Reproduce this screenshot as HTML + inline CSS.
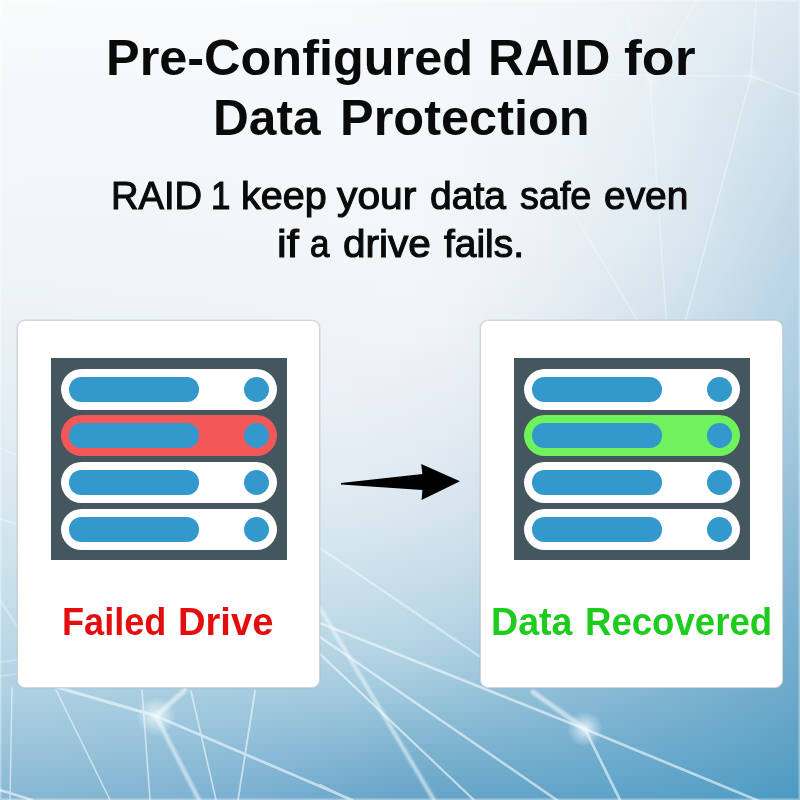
<!DOCTYPE html>
<html><head><meta charset="utf-8">
<style>
html,body{margin:0;padding:0;}
body{width:800px;height:800px;overflow:hidden;position:relative;font-family:"Liberation Sans",sans-serif;background:#dfeaf2;}
#bg i{position:absolute;left:0;width:800px;height:8px;display:block;}
#lines{position:absolute;left:0;top:0;}
.card{position:absolute;top:320px;width:303px;height:368px;background:#fff;border:1px solid #d2d6da;border-radius:8px;box-sizing:border-box;box-shadow:0 0 0.6px 0.6px rgba(170,178,186,0.35);}
.box{position:absolute;left:33px;top:37px;width:236px;height:202px;background:#44575f;}
.bay{position:absolute;left:10px;width:216px;height:41.3px;border-radius:20.65px;background:#fff;}
.bay.red{background:#f25858;}
.bay.green{background:#70f25c;}
.bar{position:absolute;left:7.6px;top:8.4px;width:130px;height:24.5px;border-radius:12.25px;background:#3399cc;}
.led{position:absolute;left:183px;top:8.1px;width:25px;height:25px;border-radius:50%;background:#3399cc;}
.w{position:absolute;transform-origin:0 0;line-height:1;white-space:nowrap;font-family:"Liberation Sans",sans-serif;}
.h1{font-weight:bold;font-size:50px;color:#0a0a0a;}
.h2{font-weight:normal;font-size:38.8px;color:#0a0a0a;-webkit-text-stroke:1.1px #0a0a0a;}
.lr{font-weight:bold;font-size:38.5px;color:#e30e0e;}
.lg{font-weight:bold;font-size:38.5px;color:#1ecc1e;}
</style></head><body>
<div id="bg">
<i style="top:0px;background:linear-gradient(90deg,#f9fbfb 0px,#f9fafb 50px,#f8fafb 100px,#f8fafb 150px,#f8fafb 200px,#f8fafc 250px,#f8fafc 300px,#f7fafb 350px,#f6f9fb 400px,#f6f9fb 450px,#f5f8fa 500px,#f3f7f9 550px,#f0f5f8 600px,#ecf2f7 650px,#e7eff5 700px,#e1ebf2 750px,#dbe7f0 800px)"></i>
<i style="top:8px;background:linear-gradient(90deg,#f9fbfb 0px,#f8fafb 50px,#f8fafb 100px,#f8fafb 150px,#f8fafb 200px,#f8fafb 250px,#f7fafb 300px,#f7fafb 350px,#f6f9fb 400px,#f5f9fb 450px,#f4f8fa 500px,#f2f6f9 550px,#f0f4f8 600px,#ecf2f6 650px,#e7eff4 700px,#e1ebf2 750px,#dae7ef 800px)"></i>
<i style="top:16px;background:linear-gradient(90deg,#f8fafb 0px,#f8fafb 50px,#f8fafb 100px,#f8fafb 150px,#f8fafb 200px,#f8fafb 250px,#f7fafb 300px,#f7f9fb 350px,#f6f9fb 400px,#f5f8fb 450px,#f4f8fa 500px,#f2f6f9 550px,#eff4f8 600px,#ebf1f6 650px,#e6eef4 700px,#e0eaf2 750px,#d9e6ef 800px)"></i>
<i style="top:24px;background:linear-gradient(90deg,#f8fafb 0px,#f7fafb 50px,#f7fafb 100px,#f7fafb 150px,#f7fafb 200px,#f7fafb 250px,#f7f9fb 300px,#f6f9fb 350px,#f6f9fb 400px,#f5f8fb 450px,#f4f7fa 500px,#f2f6f9 550px,#eff4f8 600px,#ebf1f6 650px,#e5eef4 700px,#dfeaf1 750px,#d8e6ee 800px)"></i>
<i style="top:32px;background:linear-gradient(90deg,#f8fafb 0px,#f7f9fb 50px,#f7f9fb 100px,#f7f9fb 150px,#f7f9fb 200px,#f7f9fb 250px,#f7f9fb 300px,#f6f9fb 350px,#f5f9fb 400px,#f5f8fa 450px,#f4f7fa 500px,#f2f6f9 550px,#eef4f8 600px,#eaf1f6 650px,#e5edf4 700px,#dee9f1 750px,#d7e5ee 800px)"></i>
<i style="top:40px;background:linear-gradient(90deg,#f7fafb 0px,#f7f9fb 50px,#f7f9fb 100px,#f7f9fb 150px,#f7f9fb 200px,#f7f9fb 250px,#f6f9fb 300px,#f6f9fb 350px,#f5f9fb 400px,#f5f8fa 450px,#f3f7fa 500px,#f1f6f9 550px,#eef3f7 600px,#eaf1f6 650px,#e4edf3 700px,#dde9f0 750px,#d6e4ee 800px)"></i>
<i style="top:48px;background:linear-gradient(90deg,#f7f9fb 0px,#f6f9fb 50px,#f6f9fb 100px,#f6f9fb 150px,#f6f9fb 200px,#f6f9fb 250px,#f6f9fb 300px,#f6f9fb 350px,#f5f8fb 400px,#f4f8fa 450px,#f3f7fa 500px,#f1f5f9 550px,#eef3f7 600px,#e9f0f5 650px,#e3edf3 700px,#dce8f0 750px,#d5e4ed 800px)"></i>
<i style="top:56px;background:linear-gradient(90deg,#f7f9fb 0px,#f6f9fb 50px,#f6f9fb 100px,#f6f9fb 150px,#f6f9fb 200px,#f6f9fb 250px,#f6f9fb 300px,#f6f9fb 350px,#f5f8fb 400px,#f4f8fa 450px,#f3f7fa 500px,#f1f5f9 550px,#edf3f7 600px,#e9f0f5 650px,#e3ecf3 700px,#dce8f0 750px,#d4e3ed 800px)"></i>
<i style="top:64px;background:linear-gradient(90deg,#f6f9fb 0px,#f6f9fb 50px,#f6f9fb 100px,#f6f9fb 150px,#f6f9fb 200px,#f6f9fb 250px,#f6f9fb 300px,#f5f9fb 350px,#f5f8fa 400px,#f4f8fa 450px,#f3f7fa 500px,#f0f5f9 550px,#edf3f7 600px,#e8f0f5 650px,#e2ecf3 700px,#dbe7ef 750px,#d3e2ec 800px)"></i>
<i style="top:72px;background:linear-gradient(90deg,#f6f9fb 0px,#f5f8fa 50px,#f5f8fa 100px,#f6f8fb 150px,#f6f8fb 200px,#f6f9fb 250px,#f6f9fb 300px,#f5f8fb 350px,#f5f8fa 400px,#f4f8fa 450px,#f3f7f9 500px,#f0f5f8 550px,#edf3f7 600px,#e8eff5 650px,#e1ebf2 700px,#dae7ef 750px,#d2e2ec 800px)"></i>
<i style="top:80px;background:linear-gradient(90deg,#f6f9fb 0px,#f5f8fa 50px,#f5f8fa 100px,#f5f8fa 150px,#f5f8fa 200px,#f5f8fb 250px,#f5f8fb 300px,#f5f8fb 350px,#f5f8fa 400px,#f4f7fa 450px,#f2f6f9 500px,#f0f5f8 550px,#ecf2f7 600px,#e7eff5 650px,#e1ebf2 700px,#d9e6ef 750px,#d1e1eb 800px)"></i>
<i style="top:88px;background:linear-gradient(90deg,#f5f8fa 0px,#f5f8fa 50px,#f5f8fa 100px,#f5f8fa 150px,#f5f8fa 200px,#f5f8fa 250px,#f5f8fa 300px,#f5f8fa 350px,#f4f8fa 400px,#f4f7fa 450px,#f2f6f9 500px,#f0f5f8 550px,#ecf2f7 600px,#e7eff5 650px,#e0ebf2 700px,#d8e6ef 750px,#d0e1eb 800px)"></i>
<i style="top:96px;background:linear-gradient(90deg,#f5f8fa 0px,#f5f8fa 50px,#f5f8fa 100px,#f5f8fa 150px,#f5f8fa 200px,#f5f8fa 250px,#f5f8fa 300px,#f5f8fa 350px,#f4f8fa 400px,#f4f7fa 450px,#f2f6f9 500px,#eff4f8 550px,#ecf2f7 600px,#e6eff5 650px,#dfeaf2 700px,#d7e5ee 750px,#cfe0eb 800px)"></i>
<i style="top:104px;background:linear-gradient(90deg,#f5f8fa 0px,#f5f8fa 50px,#f4f8fa 100px,#f5f8fa 150px,#f5f8fa 200px,#f5f8fa 250px,#f5f8fa 300px,#f5f8fa 350px,#f4f8fa 400px,#f3f7fa 450px,#f2f6f9 500px,#eff4f8 550px,#ebf2f6 600px,#e6eef4 650px,#dfeaf2 700px,#d6e5ee 750px,#cedfea 800px)"></i>
<i style="top:112px;background:linear-gradient(90deg,#f5f8fa 0px,#f4f8fa 50px,#f4f8fa 100px,#f4f8fa 150px,#f5f8fa 200px,#f5f8fa 250px,#f5f8fa 300px,#f5f8fa 350px,#f4f8fa 400px,#f3f7fa 450px,#f2f6f9 500px,#eff4f8 550px,#ebf2f6 600px,#e6eef4 650px,#deeaf1 700px,#d5e5ee 750px,#cddfea 800px)"></i>
<i style="top:120px;background:linear-gradient(90deg,#f4f8fa 0px,#f4f8fa 50px,#f4f7fa 100px,#f4f7fa 150px,#f4f7fa 200px,#f5f8fa 250px,#f5f8fa 300px,#f5f8fa 350px,#f4f8fa 400px,#f3f7fa 450px,#f2f6f9 500px,#eff4f8 550px,#ebf1f6 600px,#e5eef4 650px,#dee9f1 700px,#d5e4ee 750px,#ccdeea 800px)"></i>
<i style="top:128px;background:linear-gradient(90deg,#f4f8fa 0px,#f4f7fa 50px,#f4f7fa 100px,#f4f7fa 150px,#f4f7fa 200px,#f4f7fa 250px,#f4f8fa 300px,#f4f8fa 350px,#f4f8fa 400px,#f3f7fa 450px,#f1f6f9 500px,#eff4f8 550px,#eaf1f6 600px,#e5eef4 650px,#dde9f1 700px,#d4e4ee 750px,#cbdeea 800px)"></i>
<i style="top:136px;background:linear-gradient(90deg,#f4f7fa 0px,#f4f7fa 50px,#f4f7fa 100px,#f4f7fa 150px,#f4f7fa 200px,#f4f7fa 250px,#f4f8fa 300px,#f4f8fa 350px,#f4f8fa 400px,#f3f7fa 450px,#f1f6f9 500px,#eef4f8 550px,#eaf1f6 600px,#e4edf4 650px,#dde9f1 700px,#d3e3ee 750px,#caddea 800px)"></i>
<i style="top:144px;background:linear-gradient(90deg,#f3f7fa 0px,#f3f7fa 50px,#f3f7fa 100px,#f4f7fa 150px,#f4f7fa 200px,#f4f7fa 250px,#f4f7fa 300px,#f4f8fa 350px,#f4f7fa 400px,#f3f7f9 450px,#f1f5f9 500px,#eef3f7 550px,#eaf1f6 600px,#e4edf4 650px,#dce8f1 700px,#d2e3ed 750px,#c9dde9 800px)"></i>
<i style="top:152px;background:linear-gradient(90deg,#f3f7fa 0px,#f3f7fa 50px,#f3f7fa 100px,#f3f7fa 150px,#f4f7fa 200px,#f4f7fa 250px,#f4f7fa 300px,#f4f7fa 350px,#f4f7fa 400px,#f3f7f9 450px,#f1f5f9 500px,#eef3f7 550px,#eaf0f6 600px,#e4edf4 650px,#dce8f1 700px,#d2e2ed 750px,#c8dce9 800px)"></i>
<i style="top:160px;background:linear-gradient(90deg,#f3f7fa 0px,#f3f7fa 50px,#f3f7fa 100px,#f3f7fa 150px,#f3f7fa 200px,#f4f7fa 250px,#f4f7fa 300px,#f4f7fa 350px,#f4f7fa 400px,#f3f7f9 450px,#f1f5f8 500px,#eef3f7 550px,#e9f0f5 600px,#e3edf3 650px,#dbe8f1 700px,#d1e2ed 750px,#c7dbe9 800px)"></i>
<i style="top:168px;background:linear-gradient(90deg,#f3f7fa 0px,#f3f7fa 50px,#f3f7fa 100px,#f3f6fa 150px,#f3f7fa 200px,#f3f7fa 250px,#f4f7fa 300px,#f4f7fa 350px,#f4f7fa 400px,#f3f7f9 450px,#f1f5f8 500px,#edf3f7 550px,#e9f0f5 600px,#e3ecf3 650px,#dbe8f0 700px,#d0e1ec 750px,#c6dbe8 800px)"></i>
<i style="top:176px;background:linear-gradient(90deg,#f2f7fa 0px,#f2f6fa 50px,#f2f6fa 100px,#f3f6f9 150px,#f3f6f9 200px,#f3f7f9 250px,#f4f7fa 300px,#f4f7fa 350px,#f4f7fa 400px,#f2f6f9 450px,#f0f5f8 500px,#edf3f7 550px,#e9f0f5 600px,#e2ecf3 650px,#dae7f0 700px,#cfe1ec 750px,#c5dae8 800px)"></i>
<i style="top:184px;background:linear-gradient(90deg,#f2f6fa 0px,#f2f6fa 50px,#f2f6f9 100px,#f2f6f9 150px,#f3f6f9 200px,#f3f6f9 250px,#f3f7f9 300px,#f4f7fa 350px,#f3f7fa 400px,#f2f6f9 450px,#f0f5f8 500px,#edf2f7 550px,#e8eff5 600px,#e2ecf3 650px,#dae7f0 700px,#cfe0ec 750px,#c4d9e8 800px)"></i>
<i style="top:192px;background:linear-gradient(90deg,#f2f6f9 0px,#f2f6f9 50px,#f2f6f9 100px,#f2f6f9 150px,#f2f6f9 200px,#f3f6f9 250px,#f3f7f9 300px,#f3f7fa 350px,#f3f7fa 400px,#f2f6f9 450px,#f0f5f8 500px,#ecf2f6 550px,#e8eff5 600px,#e2ecf3 650px,#d9e7f0 700px,#cee0eb 750px,#c3d9e8 800px)"></i>
<i style="top:200px;background:linear-gradient(90deg,#f1f6f9 0px,#f1f6f9 50px,#f2f6f9 100px,#f2f6f9 150px,#f2f6f9 200px,#f3f6f9 250px,#f3f6f9 300px,#f3f7fa 350px,#f3f7f9 400px,#f2f6f9 450px,#f0f4f8 500px,#ecf2f6 550px,#e7eff4 600px,#e1ebf2 650px,#d9e7f0 700px,#cddfeb 750px,#c2d8e7 800px)"></i>
<i style="top:208px;background:linear-gradient(90deg,#f1f6f9 0px,#f1f6f9 50px,#f1f6f9 100px,#f2f6f9 150px,#f2f6f9 200px,#f2f6f9 250px,#f3f6f9 300px,#f3f7f9 350px,#f3f7f9 400px,#f2f6f9 450px,#eff4f8 500px,#ecf2f6 550px,#e7eef4 600px,#e1ebf2 650px,#d8e6ef 700px,#ccdfeb 750px,#c1d8e7 800px)"></i>
<i style="top:216px;background:linear-gradient(90deg,#f0f5f9 0px,#f1f5f9 50px,#f1f5f9 100px,#f1f5f9 150px,#f2f5f9 200px,#f2f6f9 250px,#f3f6f9 300px,#f3f7f9 350px,#f3f7f9 400px,#f2f6f9 450px,#eff4f8 500px,#ebf1f6 550px,#e6eef4 600px,#e0ebf2 650px,#d8e6ef 700px,#ccdeea 750px,#c0d7e7 800px)"></i>
<i style="top:224px;background:linear-gradient(90deg,#f0f5f9 0px,#f0f5f9 50px,#f1f5f9 100px,#f1f5f9 150px,#f2f5f9 200px,#f2f5f9 250px,#f2f6f9 300px,#f3f6f9 350px,#f3f7f9 400px,#f2f6f9 450px,#eff4f7 500px,#ebf1f6 550px,#e6eef4 600px,#dfeaf2 650px,#d7e6ef 700px,#cbdeea 750px,#bfd7e6 800px)"></i>
<i style="top:232px;background:linear-gradient(90deg,#f0f5f9 0px,#f0f5f9 50px,#f0f5f9 100px,#f1f5f9 150px,#f1f5f9 200px,#f2f5f9 250px,#f2f6f9 300px,#f3f6f9 350px,#f3f7f9 400px,#f1f6f9 450px,#eff3f7 500px,#ebf1f5 550px,#e5edf3 600px,#dfeaf1 650px,#d7e5ef 700px,#caddea 750px,#bed6e6 800px)"></i>
<i style="top:240px;background:linear-gradient(90deg,#eff5f8 0px,#f0f5f9 50px,#f0f5f9 100px,#f1f5f9 150px,#f1f5f9 200px,#f1f5f9 250px,#f2f5f9 300px,#f2f6f9 350px,#f2f6f9 400px,#f1f5f8 450px,#eef3f7 500px,#eaf0f5 550px,#e5edf3 600px,#dee9f1 650px,#d6e5ef 700px,#c9dde9 750px,#bdd6e6 800px)"></i>
<i style="top:248px;background:linear-gradient(90deg,#eff4f8 0px,#eff4f8 50px,#f0f5f8 100px,#f0f5f8 150px,#f1f5f8 200px,#f1f5f8 250px,#f2f5f9 300px,#f2f6f9 350px,#f2f6f9 400px,#f1f5f8 450px,#eef3f7 500px,#eaf0f5 550px,#e4ecf3 600px,#dde8f1 650px,#d5e4ee 700px,#c8dce9 750px,#bcd5e6 800px)"></i>
<i style="top:256px;background:linear-gradient(90deg,#eef4f8 0px,#eff4f8 50px,#eff4f8 100px,#f0f4f8 150px,#f0f4f8 200px,#f1f5f8 250px,#f1f5f9 300px,#f2f6f9 350px,#f2f6f9 400px,#f1f5f8 450px,#eef3f7 500px,#e9eff5 550px,#e3ecf2 600px,#dce8f0 650px,#d4e4ee 700px,#c7dce9 750px,#bbd5e6 800px)"></i>
<i style="top:264px;background:linear-gradient(90deg,#eef4f8 0px,#eef4f8 50px,#eff4f8 100px,#f0f4f8 150px,#f0f4f8 200px,#f1f4f8 250px,#f1f5f8 300px,#f2f6f9 350px,#f2f6f9 400px,#f0f5f8 450px,#edf2f7 500px,#e9eff4 550px,#e3ebf2 600px,#dbe7f0 650px,#d3e3ed 700px,#c6dbe9 750px,#bad5e6 800px)"></i>
<i style="top:272px;background:linear-gradient(90deg,#edf3f8 0px,#eef4f8 50px,#eff4f8 100px,#eff4f8 150px,#f0f4f8 200px,#f0f4f8 250px,#f1f5f8 300px,#f2f6f9 350px,#f2f6f9 400px,#f0f5f8 450px,#edf2f6 500px,#e8eff4 550px,#e2ebf2 600px,#dae6ef 650px,#d1e2ed 700px,#c5dbe9 750px,#b9d4e6 800px)"></i>
<i style="top:280px;background:linear-gradient(90deg,#edf3f7 0px,#eef3f8 50px,#eef4f8 100px,#eff4f8 150px,#eff4f8 200px,#f0f4f8 250px,#f0f4f8 300px,#f1f5f9 350px,#f1f6f9 400px,#f0f4f8 450px,#ecf2f6 500px,#e7eef4 550px,#e1eaf1 600px,#dae6ef 650px,#d0e1ec 700px,#c4dbe9 750px,#b8d4e6 800px)"></i>
<i style="top:288px;background:linear-gradient(90deg,#ecf3f7 0px,#edf3f8 50px,#eef3f8 100px,#eff4f8 150px,#eff4f8 200px,#f0f4f8 250px,#f0f4f8 300px,#f1f5f9 350px,#f1f6f9 400px,#eff4f8 450px,#ecf1f6 500px,#e7eef4 550px,#e0e9f1 600px,#d8e5ee 650px,#cfe1ec 700px,#c3dae9 750px,#b7d3e6 800px)"></i>
<i style="top:296px;background:linear-gradient(90deg,#ecf2f7 0px,#edf3f7 50px,#edf3f8 100px,#eef3f8 150px,#eff3f8 200px,#eff4f8 250px,#f0f4f8 300px,#f1f5f9 350px,#f1f5f9 400px,#eff4f8 450px,#ebf1f6 500px,#e6edf3 550px,#dfe9f1 600px,#d7e4ee 650px,#cee0ec 700px,#c2d9e8 750px,#b6d3e5 800px)"></i>
<i style="top:304px;background:linear-gradient(90deg,#ebf2f7 0px,#ecf3f7 50px,#edf3f7 100px,#eef3f8 150px,#eef3f8 200px,#eff3f8 250px,#f0f4f8 300px,#f0f5f8 350px,#f0f5f9 400px,#eef3f7 450px,#ebf0f5 500px,#e5edf3 550px,#dfe8f0 600px,#d6e4ee 650px,#cddfeb 700px,#c1d9e8 750px,#b5d3e5 800px)"></i>
<i style="top:312px;background:linear-gradient(90deg,#ebf2f7 0px,#ecf2f7 50px,#edf3f7 100px,#edf3f7 150px,#eef3f8 200px,#eff3f8 250px,#eff4f8 300px,#f0f4f8 350px,#f0f5f8 400px,#eef3f7 450px,#eaf0f5 500px,#e5ecf3 550px,#dee8f0 600px,#d5e3ed 650px,#cbdeeb 700px,#c0d8e8 750px,#b4d2e5 800px)"></i>
<i style="top:320px;background:linear-gradient(90deg,#eaf1f6 0px,#ebf2f7 50px,#ecf2f7 100px,#edf3f7 150px,#eef3f7 200px,#eef3f8 250px,#eff3f8 300px,#f0f4f8 350px,#f0f5f8 400px,#edf3f7 450px,#e9f0f5 500px,#e4ecf2 550px,#dde7f0 600px,#d4e3ed 650px,#cadeea 700px,#bed8e7 750px,#b3d1e5 800px)"></i>
<i style="top:328px;background:linear-gradient(90deg,#eaf1f6 0px,#ebf2f6 50px,#ecf2f7 100px,#edf2f7 150px,#edf3f7 200px,#eef3f7 250px,#eff3f8 300px,#eff4f8 350px,#eff4f8 400px,#edf2f7 450px,#e9eff5 500px,#e3ebf2 550px,#dce7ef 600px,#d3e2ed 650px,#c9ddea 700px,#bdd7e7 750px,#b2d1e4 800px)"></i>
<i style="top:336px;background:linear-gradient(90deg,#e9f1f6 0px,#eaf1f6 50px,#ebf2f7 100px,#ecf2f7 150px,#edf2f7 200px,#edf3f7 250px,#eef3f8 300px,#eff3f8 350px,#eff4f8 400px,#ecf2f6 450px,#e8eef4 500px,#e2ebf2 550px,#dbe6ef 600px,#d2e1ec 650px,#c8dce9 700px,#bcd6e7 750px,#b0d0e4 800px)"></i>
<i style="top:344px;background:linear-gradient(90deg,#e8f0f6 0px,#e9f1f6 50px,#ebf1f6 100px,#ecf2f7 150px,#ecf2f7 200px,#edf2f7 250px,#eef3f8 300px,#eef3f8 350px,#eef3f7 400px,#ecf1f6 450px,#e7eef4 500px,#e1eaf1 550px,#dae6ef 600px,#d1e1ec 650px,#c6dce9 700px,#bbd6e6 750px,#afd0e3 800px)"></i>
<i style="top:352px;background:linear-gradient(90deg,#e8f0f5 0px,#e9f1f6 50px,#eaf1f6 100px,#ebf2f7 150px,#ecf2f7 200px,#edf2f7 250px,#edf2f7 300px,#eef3f8 350px,#edf2f7 400px,#ebf0f6 450px,#e7edf4 500px,#e0e9f1 550px,#d9e5ee 600px,#cfe0eb 650px,#c5dbe9 700px,#b9d5e6 750px,#aecfe3 800px)"></i>
<i style="top:360px;background:linear-gradient(90deg,#e7f0f5 0px,#e8f0f6 50px,#e9f1f6 100px,#eaf1f6 150px,#ebf2f7 200px,#ecf2f7 250px,#edf2f7 300px,#edf2f7 350px,#edf1f7 400px,#eaf0f5 450px,#e6edf3 500px,#dfe9f1 550px,#d8e4ee 600px,#cedfeb 650px,#c4dae8 700px,#b8d4e5 750px,#accee2 800px)"></i>
<i style="top:368px;background:linear-gradient(90deg,#e6eff5 0px,#e8f0f5 50px,#e9f1f6 100px,#eaf1f6 150px,#ebf1f7 200px,#ecf2f7 250px,#ecf2f7 300px,#edf2f7 350px,#ecf1f6 400px,#e9eff5 450px,#e5ecf3 500px,#dee8f0 550px,#d6e4ed 600px,#cddfea 650px,#c2d9e8 700px,#b7d4e5 750px,#abcee2 800px)"></i>
<i style="top:376px;background:linear-gradient(90deg,#e6eff5 0px,#e7f0f5 50px,#e8f0f6 100px,#e9f1f6 150px,#eaf1f6 200px,#ebf1f7 250px,#ecf2f7 300px,#ecf1f7 350px,#ebf0f6 400px,#e9eef5 450px,#e4ecf2 500px,#dde8f0 550px,#d5e3ed 600px,#ccdeea 650px,#c1d9e7 700px,#b5d3e4 750px,#aacde1 800px)"></i>
<i style="top:384px;background:linear-gradient(90deg,#e5eef4 0px,#e6eff5 50px,#e7f0f5 100px,#e9f0f6 150px,#eaf1f6 200px,#ebf1f7 250px,#ebf1f7 300px,#ebf1f7 350px,#eaeff6 400px,#e8eef4 450px,#e3ebf2 500px,#dce7ef 550px,#d4e2ed 600px,#caddea 650px,#bfd8e7 700px,#b4d2e4 750px,#a8cce0 800px)"></i>
<i style="top:392px;background:linear-gradient(90deg,#e4eef4 0px,#e6eff5 50px,#e7f0f5 100px,#e8f0f6 150px,#e9f1f6 200px,#eaf1f6 250px,#eaf1f7 300px,#ebf0f7 350px,#e9eff5 400px,#e7edf4 450px,#e2eaf2 500px,#dbe6ef 550px,#d3e2ec 600px,#c9dce9 650px,#bed7e6 700px,#b2d1e3 750px,#a7cbe0 800px)"></i>
<i style="top:400px;background:linear-gradient(90deg,#e3eef4 0px,#e5eef4 50px,#e6eff5 100px,#e7f0f5 150px,#e8f0f6 200px,#e9f1f6 250px,#eaf1f6 300px,#eaf0f6 350px,#e9eef5 400px,#e6edf3 450px,#e1eaf1 500px,#dae6ef 550px,#d2e1ec 600px,#c8dce9 650px,#bdd6e6 700px,#b1d0e2 750px,#a5cbdf 800px)"></i>
<i style="top:408px;background:linear-gradient(90deg,#e3edf4 0px,#e4eef4 50px,#e5eff5 100px,#e6eff5 150px,#e8f0f6 200px,#e9f0f6 250px,#e9f0f6 300px,#e9f0f6 350px,#e8eef5 400px,#e5ecf3 450px,#e0e9f1 500px,#d9e5ee 550px,#d0e0eb 600px,#c6dbe8 650px,#bbd5e5 700px,#afd0e2 750px,#a4cadf 800px)"></i>
<i style="top:416px;background:linear-gradient(90deg,#e2edf3 0px,#e3eef4 50px,#e4eef4 100px,#e6eff5 150px,#e7f0f5 200px,#e8f0f6 250px,#e8f0f6 300px,#e8eff6 350px,#e7edf4 400px,#e4ebf3 450px,#dfe8f0 500px,#d8e4ee 550px,#cfe0eb 600px,#c5dae8 650px,#bad5e4 700px,#aecfe1 750px,#a3c9de 800px)"></i>
<i style="top:424px;background:linear-gradient(90deg,#e1ecf3 0px,#e2edf3 50px,#e4eef4 100px,#e5eff5 150px,#e6eff5 200px,#e7f0f5 250px,#e8eff6 300px,#e7eff5 350px,#e6edf4 400px,#e3ebf2 450px,#dee8f0 500px,#d7e4ed 550px,#cedfea 600px,#c3d9e7 650px,#b8d4e4 700px,#accee1 750px,#a1c8dd 800px)"></i>
<i style="top:432px;background:linear-gradient(90deg,#e0ecf3 0px,#e2edf3 50px,#e3eef4 100px,#e4eef4 150px,#e5eff5 200px,#e6eff5 250px,#e7eff5 300px,#e6eef5 350px,#e5ecf4 400px,#e2eaf2 450px,#dde7f0 500px,#d5e3ed 550px,#ccdeea 600px,#c2d9e7 650px,#b6d3e3 700px,#abcde0 750px,#9fc7dd 800px)"></i>
<i style="top:440px;background:linear-gradient(90deg,#dfecf2 0px,#e1ecf3 50px,#e2edf3 100px,#e3eef4 150px,#e4eef4 200px,#e5eff5 250px,#e6eff5 300px,#e6eef5 350px,#e4ecf3 400px,#e1eaf1 450px,#dce7ef 500px,#d4e2ec 550px,#cbdde9 600px,#c0d8e6 650px,#b5d2e3 700px,#a9ccdf 750px,#9ec6dc 800px)"></i>
<i style="top:448px;background:linear-gradient(90deg,#deebf2 0px,#e0ecf3 50px,#e1edf3 100px,#e2edf4 150px,#e3eef4 200px,#e4eef4 250px,#e5eef5 300px,#e5edf4 350px,#e3ebf3 400px,#e0e9f1 450px,#dae6ef 500px,#d3e2ec 550px,#c9dce9 600px,#bfd7e6 650px,#b3d1e2 700px,#a8cbdf 750px,#9cc5db 800px)"></i>
<i style="top:456px;background:linear-gradient(90deg,#ddebf2 0px,#dfebf2 50px,#e0ecf3 100px,#e1edf3 150px,#e2edf4 200px,#e3eef4 250px,#e4eef4 300px,#e4edf4 350px,#e2ebf3 400px,#dfe9f1 450px,#d9e5ee 500px,#d1e1eb 550px,#c8dce8 600px,#bdd6e5 650px,#b2d0e2 700px,#a6cade 750px,#9bc4db 800px)"></i>
<i style="top:464px;background:linear-gradient(90deg,#dceaf1 0px,#deebf2 50px,#dfecf2 100px,#e0ecf3 150px,#e1edf3 200px,#e2edf4 250px,#e3edf4 300px,#e3ecf3 350px,#e1eaf2 400px,#dee8f0 450px,#d8e4ee 500px,#d0e0eb 550px,#c6dbe8 600px,#bcd5e5 650px,#b0cfe1 700px,#a4c9dd 750px,#99c3da 800px)"></i>
<i style="top:472px;background:linear-gradient(90deg,#dbeaf1 0px,#ddeaf2 50px,#deebf2 100px,#dfecf3 150px,#e0ecf3 200px,#e1edf3 250px,#e2edf3 300px,#e1ecf3 350px,#e0eaf2 400px,#dce7f0 450px,#d7e4ed 500px,#cedfea 550px,#c5dae7 600px,#bad4e4 650px,#aecee0 700px,#a3c8dd 750px,#97c2d9 800px)"></i>
<i style="top:480px;background:linear-gradient(90deg,#dae9f1 0px,#dbeaf1 50px,#ddebf2 100px,#deebf2 150px,#dfecf3 200px,#e0ecf3 250px,#e1ecf3 300px,#e0ebf2 350px,#dee9f1 400px,#dbe7ef 450px,#d5e3ed 500px,#cddeea 550px,#c3d9e7 600px,#b8d3e3 650px,#adcde0 700px,#a1c7dc 750px,#96c1d9 800px)"></i>
<i style="top:488px;background:linear-gradient(90deg,#d9e8f0 0px,#dae9f1 50px,#dbeaf1 100px,#dcebf2 150px,#deebf2 200px,#dfecf2 250px,#dfebf2 300px,#dfeaf2 350px,#dde8f1 400px,#dae6ef 450px,#d4e2ec 500px,#cbdee9 550px,#c1d8e6 600px,#b7d2e3 650px,#abccdf 700px,#9fc6dc 750px,#94c0d8 800px)"></i>
<i style="top:496px;background:linear-gradient(90deg,#d8e8f0 0px,#d9e9f0 50px,#dae9f1 100px,#dbeaf1 150px,#dcebf2 200px,#ddebf2 250px,#deebf2 300px,#deeaf1 350px,#dce8f0 400px,#d8e5ee 450px,#d2e1ec 500px,#cadde9 550px,#c0d7e6 600px,#b5d1e2 650px,#a9cbdf 700px,#9dc5db 750px,#92bfd7 800px)"></i>
<i style="top:504px;background:linear-gradient(90deg,#d6e7f0 0px,#d8e8f0 50px,#d9e9f0 100px,#dae9f1 150px,#dbeaf1 200px,#dceaf2 250px,#ddeaf1 300px,#dce9f1 350px,#dae7ef 400px,#d7e4ee 450px,#d0e1eb 500px,#c8dce8 550px,#bed6e5 600px,#b3d0e2 650px,#a7cade 700px,#9cc4da 750px,#91bed7 800px)"></i>
<i style="top:512px;background:linear-gradient(90deg,#d5e7ef 0px,#d6e7f0 50px,#d7e8f0 100px,#d8e9f0 150px,#d9e9f1 200px,#dae9f1 250px,#dbe9f1 300px,#dbe8f0 350px,#d8e6ef 400px,#d5e4ed 450px,#cfe0eb 500px,#c6dbe8 550px,#bcd5e5 600px,#b1cfe1 650px,#a6c9de 700px,#9ac3da 750px,#8fbdd6 800px)"></i>
<i style="top:520px;background:linear-gradient(90deg,#d4e6ef 0px,#d5e7ef 50px,#d6e7f0 100px,#d7e8f0 150px,#d8e8f0 200px,#d9e9f0 250px,#dae8f0 300px,#d9e7f0 350px,#d7e5ee 400px,#d3e3ec 450px,#cddfea 500px,#c4dae7 550px,#bad4e4 600px,#afcee1 650px,#a4c8dd 700px,#98c2d9 750px,#8dbcd6 800px)"></i>
<i style="top:528px;background:linear-gradient(90deg,#d2e5ee 0px,#d3e6ef 50px,#d4e7ef 100px,#d5e7ef 150px,#d6e8f0 200px,#d7e8f0 250px,#d8e8f0 300px,#d7e7ef 350px,#d5e4ee 400px,#d2e2ec 450px,#cbdee9 500px,#c2d9e7 550px,#b8d3e3 600px,#aecde0 650px,#a2c7dc 700px,#96c1d9 750px,#8bbbd5 800px)"></i>
<i style="top:536px;background:linear-gradient(90deg,#d1e4ee 0px,#d2e5ee 50px,#d3e6ef 100px,#d4e6ef 150px,#d5e7ef 200px,#d6e7ef 250px,#d6e7ef 300px,#d5e6ee 350px,#d3e3ed 400px,#d0e1eb 450px,#c9dde9 500px,#c0d8e6 550px,#b7d2e3 600px,#acccdf 650px,#a0c6dc 700px,#94c0d8 750px,#89bad5 800px)"></i>
<i style="top:544px;background:linear-gradient(90deg,#cfe4ed 0px,#d0e4ee 50px,#d1e5ee 100px,#d2e6ee 150px,#d3e6ef 200px,#d4e6ef 250px,#d4e6ef 300px,#d3e5ee 350px,#d1e2ec 400px,#cde0eb 450px,#c7dce8 500px,#bed7e5 550px,#b5d1e2 600px,#aacbdf 650px,#9ec5db 700px,#93bfd8 750px,#88b9d4 800px)"></i>
<i style="top:552px;background:linear-gradient(90deg,#cde3ed 0px,#cee4ed 50px,#cfe4ee 100px,#d0e5ee 150px,#d1e5ee 200px,#d2e5ee 250px,#d2e5ee 300px,#d1e4ed 350px,#cfe1ec 400px,#cbdfea 450px,#c5dbe8 500px,#bcd6e5 550px,#b3d0e2 600px,#a8cade 650px,#9cc4db 700px,#91bdd7 750px,#86b8d4 800px)"></i>
<i style="top:560px;background:linear-gradient(90deg,#cce2ec 0px,#cde3ed 50px,#cee3ed 100px,#cfe4ed 150px,#cfe4ed 200px,#d0e4ee 250px,#d0e4ed 300px,#cfe3ed 350px,#cce0eb 400px,#c9dee9 450px,#c3dae7 500px,#bad5e4 550px,#b0cfe1 600px,#a6c9de 650px,#9bc3da 700px,#8fbcd7 750px,#84b6d3 800px)"></i>
<i style="top:568px;background:linear-gradient(90deg,#cae1ec 0px,#cbe2ec 50px,#cce2ed 100px,#cde3ed 150px,#cde3ed 200px,#cee3ed 250px,#cee3ed 300px,#cde2ec 350px,#cadfeb 400px,#c7dde9 450px,#c1d9e6 500px,#b8d4e3 550px,#aecee0 600px,#a4c8dd 650px,#99c2d9 700px,#8dbbd6 750px,#82b5d3 800px)"></i>
<i style="top:576px;background:linear-gradient(90deg,#c8e0eb 0px,#c9e1ec 50px,#cae1ec 100px,#cbe2ec 150px,#cbe2ec 200px,#cce2ec 250px,#cce2ec 300px,#cbe0eb 350px,#c8deea 400px,#c5dbe8 450px,#bed7e6 500px,#b6d2e3 550px,#accde0 600px,#a2c7dc 650px,#97c1d9 700px,#8bbad5 750px,#81b4d2 800px)"></i>
<i style="top:584px;background:linear-gradient(90deg,#c6dfeb 0px,#c8e0eb 50px,#c8e0eb 100px,#c9e1eb 150px,#c9e1eb 200px,#cae1eb 250px,#cae0eb 300px,#c9dfeb 350px,#c6dde9 400px,#c2dae8 450px,#bcd6e5 500px,#b3d1e2 550px,#aaccdf 600px,#a0c6dc 650px,#95c0d8 700px,#8ab9d5 750px,#7fb3d2 800px)"></i>
<i style="top:592px;background:linear-gradient(90deg,#c5deea 0px,#c6dfeb 50px,#c6dfeb 100px,#c7e0eb 150px,#c7e0eb 200px,#c7e0eb 250px,#c8dfeb 300px,#c7deea 350px,#c4dce9 400px,#c0d9e7 450px,#b9d5e4 500px,#b1d0e1 550px,#a8cade 600px,#9ec5db 650px,#93bfd8 700px,#88b8d4 750px,#7db2d1 800px)"></i>
<i style="top:600px;background:linear-gradient(90deg,#c3ddea 0px,#c4deea 50px,#c4deea 100px,#c5deea 150px,#c5deea 200px,#c5deea 250px,#c5deea 300px,#c5dde9 350px,#c2dbe8 400px,#bed8e6 450px,#b7d4e3 500px,#aecfe0 550px,#a5c9dd 600px,#9cc3da 650px,#91bdd7 700px,#86b7d4 750px,#7cb2d0 800px)"></i>
<i style="top:608px;background:linear-gradient(90deg,#c1dce9 0px,#c2dde9 50px,#c2dde9 100px,#c2dde9 150px,#c3dde9 200px,#c3dde9 250px,#c3dde9 300px,#c2dce9 350px,#c0dae8 400px,#bbd7e5 450px,#b4d2e3 500px,#accde0 550px,#a3c8dd 600px,#99c2da 650px,#8fbcd6 700px,#85b6d3 750px,#7ab1d0 800px)"></i>
<i style="top:616px;background:linear-gradient(90deg,#c0dbe9 0px,#c0dce9 50px,#c0dce9 100px,#c0dce9 150px,#c0dce8 200px,#c0dbe8 250px,#c0dbe8 300px,#c0dbe8 350px,#bed9e7 400px,#b8d6e5 450px,#b1d1e2 500px,#a9ccdf 550px,#a0c7dc 600px,#97c1d9 650px,#8dbbd6 700px,#83b5d2 750px,#79b0cf 800px)"></i>
<i style="top:624px;background:linear-gradient(90deg,#bedae8 0px,#bedbe8 50px,#bedbe8 100px,#bedbe8 150px,#bedae8 200px,#bedae7 250px,#bddae7 300px,#bdd9e7 350px,#bbd8e6 400px,#b6d4e4 450px,#aecfe1 500px,#a6cade 550px,#9ec5db 600px,#95c0d8 650px,#8bbad5 700px,#81b4d2 750px,#77afce 800px)"></i>
<i style="top:632px;background:linear-gradient(90deg,#bcd9e8 0px,#bddae8 50px,#bcdae7 100px,#bcd9e7 150px,#bbd9e7 200px,#bbd8e7 250px,#bbd8e6 300px,#bad8e6 350px,#b9d7e6 400px,#b3d3e3 450px,#abcee0 500px,#a4c9dd 550px,#9bc4da 600px,#93bfd8 650px,#89b9d4 700px,#7fb4d1 750px,#76aece 800px)"></i>
<i style="top:640px;background:linear-gradient(90deg,#bbd8e7 0px,#bbd9e7 50px,#bad8e7 100px,#b9d8e6 150px,#b9d7e6 200px,#b8d7e6 250px,#b8d6e5 300px,#b7d6e5 350px,#b6d5e5 400px,#b0d1e2 450px,#a8ccdf 500px,#a1c7dc 550px,#99c3da 600px,#90bdd7 650px,#87b8d4 700px,#7eb3d0 750px,#74adcd 800px)"></i>
<i style="top:648px;background:linear-gradient(90deg,#b9d7e7 0px,#b9d7e6 50px,#b8d7e6 100px,#b7d6e5 150px,#b6d6e5 200px,#b5d5e5 250px,#b5d5e5 300px,#b4d4e4 350px,#b3d4e4 400px,#adcfe1 450px,#a5cbde 500px,#9ec6db 550px,#96c1d9 600px,#8ebcd6 650px,#85b7d3 700px,#7cb2d0 750px,#73adcc 800px)"></i>
<i style="top:656px;background:linear-gradient(90deg,#b7d6e6 0px,#b6d6e6 50px,#b5d5e5 100px,#b4d5e4 150px,#b3d4e4 200px,#b2d4e4 250px,#b2d3e3 300px,#b1d2e3 350px,#b0d2e3 400px,#a9cde0 450px,#a2c9dd 500px,#9bc4da 550px,#93c0d8 600px,#8cbbd5 650px,#83b6d2 700px,#7ab1cf 750px,#71accc 800px)"></i>
<i style="top:664px;background:linear-gradient(90deg,#b5d5e5 0px,#b4d5e5 50px,#b3d4e4 100px,#b2d3e3 150px,#b0d3e3 200px,#afd2e3 250px,#aed1e2 300px,#add0e2 350px,#acd0e1 400px,#a6ccdf 450px,#9fc7dc 500px,#98c3d9 550px,#91bed7 600px,#89bad5 650px,#81b5d2 700px,#78b0ce 750px,#70abcb 800px)"></i>
<i style="top:672px;background:linear-gradient(90deg,#b3d3e5 0px,#b2d3e4 50px,#b0d2e3 100px,#afd2e3 150px,#aed1e2 200px,#acd0e2 250px,#abcfe1 300px,#aacee1 350px,#a8cde0 400px,#a2c9dd 450px,#9bc5db 500px,#94c1d8 550px,#8ebdd6 600px,#87b8d4 650px,#7fb4d1 700px,#77afce 750px,#6eaaca 800px)"></i>
<i style="top:680px;background:linear-gradient(90deg,#b1d2e4 0px,#b0d2e3 50px,#aed1e2 100px,#acd0e2 150px,#abcfe1 200px,#a9cee1 250px,#a8cde0 300px,#a6ccdf 350px,#a4cbde 400px,#9ec7dc 450px,#98c3d9 500px,#91bfd7 550px,#8bbbd5 600px,#84b7d3 650px,#7db3d0 700px,#75aecd 750px,#6ca9ca 800px)"></i>
<i style="top:688px;background:linear-gradient(90deg,#aed1e3 0px,#add0e2 50px,#abcfe1 100px,#a9cee1 150px,#a8cde0 200px,#a6cce0 250px,#a4cbdf 300px,#a2cade 350px,#9fc8dd 400px,#9ac5da 450px,#94c1d8 500px,#8ebdd6 550px,#88bad4 600px,#82b6d2 650px,#7ab1d0 700px,#73adcc 750px,#6ba8c9 800px)"></i>
<i style="top:696px;background:linear-gradient(90deg,#accfe2 0px,#abcee1 50px,#a8cde0 100px,#a6cce0 150px,#a5cbdf 200px,#a3cade 250px,#a1c8de 300px,#9ec7dd 350px,#9bc6db 400px,#96c2d9 450px,#90bfd7 500px,#8bbbd5 550px,#85b8d3 600px,#7fb4d1 650px,#78b0cf 700px,#70accc 750px,#69a7c9 800px)"></i>
<i style="top:704px;background:linear-gradient(90deg,#a9cde1 0px,#a8cde0 50px,#a6ccdf 100px,#a4cbdf 150px,#a2cade 200px,#9fc8dd 250px,#9dc6dc 300px,#9ac5db 350px,#96c3d9 400px,#92c0d7 450px,#8dbdd6 500px,#87bad4 550px,#82b6d3 600px,#7cb3d1 650px,#76afce 700px,#6eabcb 750px,#67a6c8 800px)"></i>
<i style="top:712px;background:linear-gradient(90deg,#a7cbe0 0px,#a5cbdf 50px,#a3cade 100px,#a1c9dd 150px,#9fc8dd 200px,#9cc6dc 250px,#99c4db 300px,#96c2da 350px,#92c0d8 400px,#8ebdd6 450px,#89bbd4 500px,#84b8d3 550px,#7fb5d2 600px,#7ab1d0 650px,#73aecd 700px,#6caaca 750px,#64a5c7 800px)"></i>
<i style="top:720px;background:linear-gradient(90deg,#a4c9de 0px,#a2c9de 50px,#a0c8dd 100px,#9ec7dc 150px,#9bc6dc 200px,#99c4db 250px,#96c2da 300px,#92bfd8 350px,#8dbdd6 400px,#8abbd4 450px,#85b8d3 500px,#81b6d2 550px,#7cb3d1 600px,#77b0cf 650px,#71accd 700px,#6aa9ca 750px,#62a4c7 800px)"></i>
<i style="top:728px;background:linear-gradient(90deg,#a1c8dd 0px,#9fc7dd 50px,#9dc6dc 100px,#9bc5db 150px,#98c4db 200px,#95c2da 250px,#92bfd9 300px,#8ebdd6 350px,#89bad4 400px,#85b8d3 450px,#81b6d2 500px,#7db4d1 550px,#79b1d0 600px,#74aece 650px,#6eabcc 700px,#67a7c9 750px,#60a3c6 800px)"></i>
<i style="top:736px;background:linear-gradient(90deg,#9ec6dc 0px,#9cc5db 50px,#9ac4db 100px,#98c3da 150px,#95c1da 200px,#92bfd9 250px,#8ebdd7 300px,#8abad5 350px,#85b7d2 400px,#81b6d1 450px,#7eb4d0 500px,#7ab2d0 550px,#76b0cf 600px,#71adcd 650px,#6baacb 700px,#65a6c9 750px,#5ea2c6 800px)"></i>
<i style="top:744px;background:linear-gradient(90deg,#9ac4db 0px,#99c3da 50px,#97c2da 100px,#94c1d9 150px,#92bfd8 200px,#8fbdd8 250px,#8bbad6 300px,#86b7d3 350px,#80b4d0 400px,#7db3d0 450px,#7ab2cf 500px,#76b0cf 550px,#72aece 600px,#6eabcc 650px,#69a8ca 700px,#62a5c8 750px,#5ba1c5 800px)"></i>
<i style="top:752px;background:linear-gradient(90deg,#97c1d9 0px,#96c1d9 50px,#94c0d8 100px,#91bfd8 150px,#8fbdd7 200px,#8bbbd7 250px,#87b8d5 300px,#82b5d2 350px,#7cb1cf 400px,#79b1ce 450px,#76b0ce 500px,#73aecd 550px,#6faccd 600px,#6baacb 650px,#66a7ca 700px,#60a4c7 750px,#59a0c5 800px)"></i>
<i style="top:760px;background:linear-gradient(90deg,#94bfd8 0px,#92bfd7 50px,#91bed7 100px,#8ebdd7 150px,#8bbbd6 200px,#88b9d5 250px,#83b6d4 300px,#7eb2d1 350px,#78afcd 400px,#75aecd 450px,#73adcd 500px,#6faccc 550px,#6caacc 600px,#68a8cb 650px,#63a6c9 700px,#5da3c7 750px,#569fc4 800px)"></i>
<i style="top:768px;background:linear-gradient(90deg,#91bdd7 0px,#8fbdd6 50px,#8dbcd6 100px,#8bbbd6 150px,#88b9d5 200px,#84b6d4 250px,#80b3d3 300px,#7ab0cf 350px,#74accc 400px,#72accb 450px,#6fabcb 500px,#6caacb 550px,#69a9cb 600px,#65a7ca 650px,#60a4c8 700px,#5aa1c6 750px,#549ec4 800px)"></i>
<i style="top:776px;background:linear-gradient(90deg,#8ebbd5 0px,#8cbbd5 50px,#8abad5 100px,#88b9d4 150px,#85b7d4 200px,#81b4d3 250px,#7cb1d1 300px,#76adce 350px,#71aacb 400px,#6ea9ca 450px,#6ca9ca 500px,#69a8ca 550px,#66a7ca 600px,#62a5c9 650px,#5ea3c7 700px,#58a0c5 750px,#519cc3 800px)"></i>
<i style="top:784px;background:linear-gradient(90deg,#8bbad4 0px,#89b9d4 50px,#87b8d4 100px,#85b7d3 150px,#82b5d3 200px,#7eb2d2 250px,#79afd0 300px,#73abcd 350px,#6da8ca 400px,#6aa7c9 450px,#68a7c9 500px,#65a6c9 550px,#63a5c9 600px,#5fa3c8 650px,#5ba1c6 700px,#559fc5 750px,#4f9bc2 800px)"></i>
<i style="top:792px;background:linear-gradient(90deg,#88b8d3 0px,#86b7d3 50px,#84b6d2 100px,#82b5d2 150px,#7eb3d2 200px,#7ab0d1 250px,#75accf 300px,#6fa9cc 350px,#6aa6c9 400px,#67a5c8 450px,#65a5c8 500px,#62a4c8 550px,#5fa3c8 600px,#5ca2c7 650px,#58a0c6 700px,#539dc4 750px,#4c9ac2 800px)"></i>
</div>
<svg id="lines" width="800" height="800" viewBox="0 0 800 800">
<defs>
<radialGradient id="glow"><stop offset="0" stop-color="#f4fbff" stop-opacity="0.8"/><stop offset="0.5" stop-color="#f4fbff" stop-opacity="0.4"/><stop offset="1" stop-color="#f4fbff" stop-opacity="0"/></radialGradient>
<filter id="bl" x="-10%" y="-10%" width="120%" height="120%"><feGaussianBlur stdDeviation="0.7"/></filter>
<filter id="bl2" x="-10%" y="-10%" width="120%" height="120%"><feGaussianBlur stdDeviation="1.2"/></filter>
</defs>
<g stroke="#f2faff" stroke-linecap="round" fill="none" filter="url(#bl)">
<g stroke-width="1.6" opacity="0.45">
<path d="M600,75 L751,76 L800,95"/>
<path d="M756,0 L751,76 L683,330"/>
<path d="M697,0 L650,82 L667,330"/>
<path d="M625,12 L650,82"/>
<path d="M560,190 L637,320"/>
</g>
<g opacity="0.62">
<path d="M58,687.5 L156,716" stroke-width="3"/>
<path d="M156,716 L352,800" stroke-width="2.6"/>
<path d="M142,690 L150,800" stroke-width="1.6"/>
<path d="M56,690 L110,800" stroke-width="1.6"/>
<path d="M191,691 L216,800" stroke-width="1.6"/>
<path d="M255,691 L238,800" stroke-width="1.8"/>
<path d="M0,790 L32,800" stroke-width="2.4"/>
<path d="M12,688 L10,800" stroke-width="1.4"/>
<path d="M320,548 L479,656" stroke-width="2.6" opacity="0.8"/>
<path d="M320,623 L585,729 L800,818" stroke-width="2.6"/>
<path d="M585,729 L620,800" stroke-width="2.8"/>
<path d="M320,637 L567,807" stroke-width="2.6"/>
<path d="M320,654 L474,800" stroke-width="2.4"/>
<path d="M320,785 L350,800" stroke-width="2.4"/>
<path d="M0,448 L17,455" stroke-width="2" opacity="0.5"/>
<path d="M0,519 L17,524" stroke-width="2" opacity="0.6"/>
<path d="M0,600 L17,626" stroke-width="2.4" opacity="0.6"/>
<path d="M0,662 L17,660" stroke-width="2" opacity="0.5"/>
<path d="M0,676 L17,674" stroke-width="2" opacity="0.5"/>
</g>
</g>
<g stroke="#f2faff" stroke-linecap="round" fill="none" filter="url(#bl2)" opacity="0.6">
<path d="M185,690 L156,716" stroke-width="5"/>
<path d="M156,716 L199,800" stroke-width="4"/>
<path d="M533,692 L585,729" stroke-width="5"/>
<path d="M320,608 L434,800" stroke-width="4"/>
</g>
<circle cx="156" cy="716" r="20" fill="url(#glow)"/>
<circle cx="585" cy="729" r="18" fill="url(#glow)"/>
<circle cx="751" cy="76" r="10" fill="url(#glow)" opacity="0.5"/>
<circle cx="650" cy="82" r="10" fill="url(#glow)" opacity="0.5"/>
</svg>


<div class="card" style="left:17px;">
<div class="box">
<div class="bay" style="top:10.8px"><div class="bar"></div><div class="led"></div></div>
<div class="bay red" style="top:57.1px"><div class="bar"></div><div class="led"></div></div>
<div class="bay" style="top:103.9px"><div class="bar"></div><div class="led"></div></div>
<div class="bay" style="top:150.7px"><div class="bar"></div><div class="led"></div></div>
</div>
</div>

<div class="card" style="left:480px;">
<div class="box">
<div class="bay" style="top:10.8px"><div class="bar"></div><div class="led"></div></div>
<div class="bay green" style="top:57.1px"><div class="bar"></div><div class="led"></div></div>
<div class="bay" style="top:103.9px"><div class="bar"></div><div class="led"></div></div>
<div class="bay" style="top:150.7px"><div class="bar"></div><div class="led"></div></div>
</div>
</div>

<div style="position:absolute;left:0;top:0;width:800px;height:800px;box-shadow:inset 0 0 0 1.5px rgba(255,255,255,0.35);"></div>
<svg style="position:absolute;left:0;top:0" width="800" height="800">
<path d="M341,482.9 L422.4,474.1 L421.2,464 L460,481.3 L421.6,500 L422.4,489.9 L341,484.4 Z" fill="#000"/>
</svg>
<span class="w h1" style="left:106.47px;top:33.00px;transform:scaleX(1.0087)">Pre-Configured</span>
<span class="w h1" style="left:488.40px;top:33.00px;transform:scaleX(1.0009)">RAID</span>
<span class="w h1" style="left:623.93px;top:33.00px;transform:scaleX(1.0731)">for</span>
<span class="w h1" style="left:213.27px;top:93.00px;transform:scaleX(0.9920)">Data</span>
<span class="w h1" style="left:339.57px;top:93.00px;transform:scaleX(1.0100)">Protection</span>
<span class="w h2" style="left:111.45px;top:177.00px;transform:scaleX(0.9831)">RAID</span>
<span class="w h2" style="left:210.80px;top:177.00px;transform:scaleX(0.9000)">1</span>
<span class="w h2" style="left:241.36px;top:177.00px;transform:scaleX(1.0198)">keep</span>
<span class="w h2" style="left:337.40px;top:177.00px;transform:scaleX(1.0507)">your</span>
<span class="w h2" style="left:430.24px;top:177.00px;transform:scaleX(1.0067)">data</span>
<span class="w h2" style="left:520.03px;top:177.00px;transform:scaleX(0.9732)">safe</span>
<span class="w h2" style="left:604.00px;top:177.00px;transform:scaleX(1.0031)">even</span>
<span class="w h2" style="left:276.61px;top:224.50px;transform:scaleX(1.1200)">if</span>
<span class="w h2" style="left:309.90px;top:224.50px;transform:scaleX(0.9000)">a</span>
<span class="w h2" style="left:342.56px;top:224.50px;transform:scaleX(1.0445)">drive</span>
<span class="w h2" style="left:443.90px;top:224.50px;transform:scaleX(1.0026)">fails.</span>
<span class="w lr" style="left:61.79px;top:603.00px;transform:scaleX(0.9377)">Failed</span>
<span class="w lr" style="left:177.53px;top:603.00px;transform:scaleX(0.9902)">Drive</span>
<span class="w lg" style="left:491.07px;top:603.00px;transform:scaleX(0.9763)">Data</span>
<span class="w lg" style="left:585.40px;top:603.00px;transform:scaleX(0.9503)">Recovered</span>
</body></html>
